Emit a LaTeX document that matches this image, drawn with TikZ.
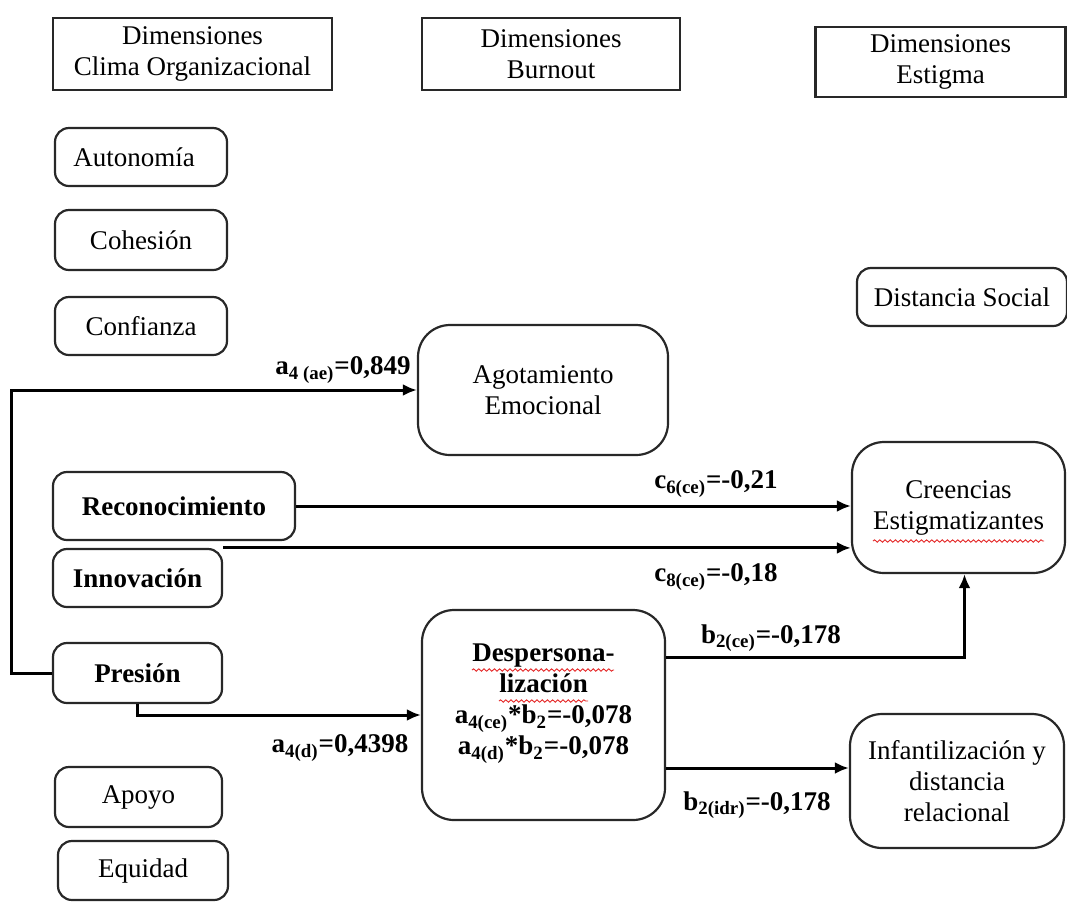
\documentclass[tikz,border=0pt]{standalone}
\usepackage{fontspec}
\setmainfont{Liberation Serif}
\usetikzlibrary{arrows.meta,decorations.pathmorphing}
\definecolor{spellred}{RGB}{228,40,40}
\definecolor{edge}{RGB}{40,40,40}

\begin{document}
\begin{tikzpicture}[x=0.5pt,y=-0.5pt,
  every node/.style={font=\fontsize{13.5}{15.5}\selectfont},
  hdr/.style={draw=edge, line width=1.1pt, align=center, inner sep=0pt},
  rbox/.style={draw=edge, line width=1.1pt, rounded corners=7pt, align=center, inner sep=0pt},
  bigbox/.style={rbox, rounded corners=16pt},
  coef/.style={font=\fontsize{13.5}{15.5}\selectfont\bfseries, inner sep=0pt},
  link/.style={line width=1.5pt, -{Latex[length=7pt,width=6pt]}},
  spell/.style={spellred, line width=0.45pt, decorate,
    decoration={snake, amplitude=0.6pt, segment length=2.6pt}}
]
\path[use as bounding box] (0,0) rectangle (1067,907);

% column headings
\node[hdr, minimum width=139.5pt, minimum height=36pt] (h1) at (192.5,54) {Dimensiones\\Clima Organizacional};
\node[hdr, minimum width=129pt, minimum height=36pt] (h2) at (551,54) {Dimensiones\\Burnout};
\node[hdr, minimum width=125pt, minimum height=35pt] (h3) at (940.5,62) {Dimensiones\\Estigma};

% organisational climate dimensions
\node[rbox, minimum width=86pt, minimum height=29pt] (auto) at (141,157) {Autonomía\hspace{7pt}};
\node[rbox, minimum width=86pt, minimum height=30pt] (coh) at (141,240) {Cohesión};
\node[rbox, minimum width=86pt, minimum height=29pt] (conf) at (141,326) {Confianza};
\node[rbox, minimum width=121pt, minimum height=34pt] (recon) at (174,506) {\textbf{Reconocimiento}};
\node[rbox, minimum width=84.5pt, minimum height=29pt] (innov) at (137.5,578) {\textbf{Innovación}};
\node[rbox, minimum width=84.5pt, minimum height=30pt] (pres) at (137.5,673) {\textbf{Presión}};
\node[rbox, minimum width=83.5pt, minimum height=30pt] (apoyo) at (138.5,797) {Apoyo};
\node[rbox, minimum width=85pt, minimum height=29.5pt] (equi) at (143,870.5) {Equidad};

% burnout dimensions
\node[bigbox, minimum width=125pt, minimum height=65pt] (agot) at (543,390) {Agotamiento\\Emocional};
\node[bigbox, font=\fontsize{13.5}{15.5}\selectfont\bfseries, minimum width=121.5pt, minimum height=105pt] (desp) at (543.5,715)
  {Despersona-\\lización\\a\textsubscript{4(ce)}*b\textsubscript{2}=-0,078\\a\textsubscript{4(d)}*b\textsubscript{2}=-0,078\\\mbox{}};

% stigma dimensions
\node[rbox, minimum width=105pt, minimum height=29pt] (dist) at (962,297) {Distancia Social};
\node[bigbox, minimum width=106.5pt, minimum height=65.5pt] (cree) at (958.5,507.5) {Creencias\\Estigmatizantes};
\node[bigbox, minimum width=107pt, minimum height=67pt] (infa) at (957,781) {Infantilización y\\distancia\\relacional};

% path coefficients
\node[coef] (lae) at (343,370) {a\textsubscript{4 (ae)}=0,849};
\node[coef] (lc6) at (716,484) {c\textsubscript{6(ce)}=-0,21};
\node[coef] (lc8) at (716,577) {c\textsubscript{8(ce)}=-0,18};
\node[coef] (lb2ce) at (771,638) {b\textsubscript{2(ce)}=-0,178};
\node[coef] (la4d) at (340,748) {a\textsubscript{4(d)}=0,4398};
\node[coef] (lb2i) at (757,805) {b\textsubscript{2(idr)}=-0,178};

% paths
\draw[link] (pres.west) -- ++(-40,0) |- (agot.west);
\draw[link] (recon.east) -- (recon.east -| cree.west);
\draw[link] (innov.north east) -- (innov.north east -| cree.west);
\draw[link] ([yshift=29pt]desp.east) -| ([xshift=3pt]cree.south);
\draw[link] (pres.south) |- (desp.west);
\draw[link] ([yshift=-26.5pt]desp.east) -- ([yshift=-26.5pt]desp.east -| infa.west);

% spelling marks under words
\draw[spell] (873,541) -- (1044,541);
\draw[spell] (472,670) -- (614,670);
\draw[spell] (499,701) -- (588,701);
\end{tikzpicture}
\end{document}
